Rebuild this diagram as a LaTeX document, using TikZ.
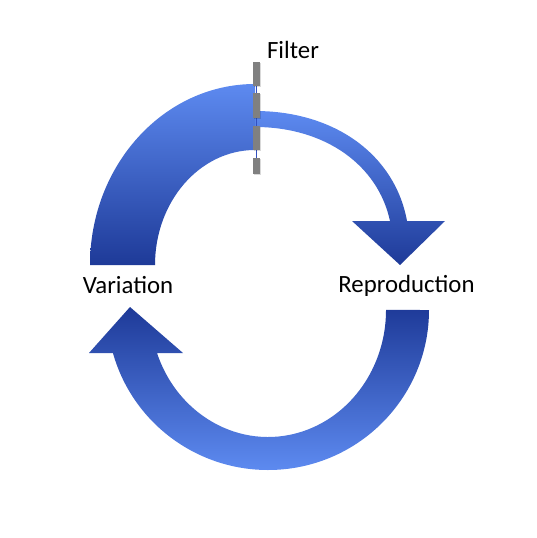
\documentclass[tikz,border=0pt]{standalone}
\usepackage{fontspec}
\setmainfont{Carlito}
\begin{document}
\begin{tikzpicture}[x=1pt,y=1pt]
\definecolor{lightb}{RGB}{93,138,240}
\definecolor{darkb}{RGB}{30,58,152}
\definecolor{filtergray}{RGB}{128,128,128}
\definecolor{filterline}{RGB}{50,80,190}
\tikzset{
  lbl/.style={font=\fontsize{24.8}{28}\selectfont, anchor=base, inner sep=0pt},
  upgrad/.style={top color=lightb, bottom color=darkb},
  downgrad/.style={top color=darkb, bottom color=lightb},
  filterseg/.style={fill=filtergray},
  filtershadow/.style={fill=black, opacity=0.15}
}
\useasboundingbox (0,0) rectangle (536,-538);
% upper-left band (Variation -> Filter)
\shade[upgrad] (90,-265) arc[start angle=180,end angle=90,x radius=165,y radius=181]
  -- (255,-150) arc[start angle=90,end angle=180,x radius=100,y radius=115] -- cycle;
% thin arrow (Filter -> Reproduction)
\shade[upgrad] (255,-111) .. controls (335,-111) and (395,-155) .. (407,-221)
  -- (445,-221) -- (400,-265) -- (352,-221) -- (390,-221)
  .. controls (378,-165) and (325,-127) .. (255,-127) -- cycle;
% bottom arrow (Reproduction -> Variation)
\shade[downgrad] (429,-310) arc[start angle=0,end angle=-164.4,x radius=161,y radius=160]
  -- (89,-353) -- (130,-307) -- (183,-353) -- (157,-353)
  arc[start angle=-160.2,end angle=0,x radius=118,y radius=127] -- cycle;
% filter
\draw[filterline, line width=0.8pt] (256.5,-86) -- (256.5,-174);
\foreach \a/\b in {62/86, 93/118, 126/150, 158/174}{
  \fill[filtershadow] (254,-\a-1) rectangle (261,-\b-1);
  \fill[filterseg] (253,-\a) rectangle (260,-\b);
}
% labels
\node[lbl] (filter) at (293,-58) {Filter};
\node[lbl] (variation) at (128,-293) {Variation};
\node[lbl] (reproduction) at (406.5,-292) {Reproduction};
\end{tikzpicture}
\end{document}
